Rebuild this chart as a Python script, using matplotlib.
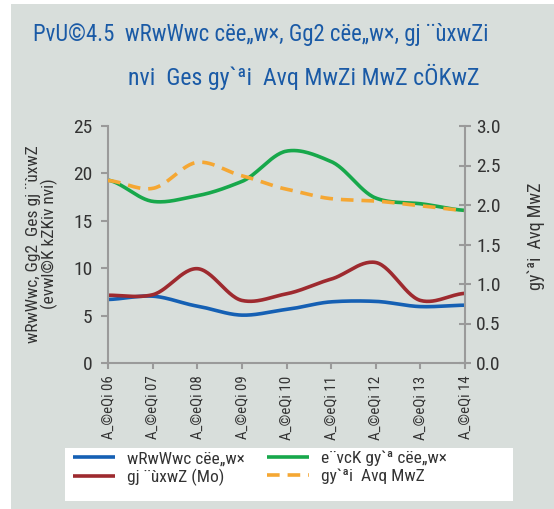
import numpy as np
import matplotlib
matplotlib.use("Agg")
import matplotlib.pyplot as plt
from matplotlib.patches import Rectangle
from matplotlib import font_manager

# data
years = ["06", "07", "08", "09", "10", "11", "12", "13", "14"]
tick_labels = ["A_©eQi " + y for y in years]
gdp_growth = [6.7, 7.05, 6.0, 5.05, 5.65, 6.45, 6.5, 5.95, 6.1]
m2_growth = [19.3, 17.05, 17.65, 19.15, 22.35, 21.25, 17.4, 16.8, 16.1]
inflation = [7.15, 7.2, 9.95, 6.6, 7.3, 8.85, 10.6, 6.6, 7.35]
velocity = [2.31, 2.21, 2.54, 2.37, 2.2, 2.08, 2.05, 1.99, 1.93]

title_1 = "PvU©4.5  wRwWwc cëe„w×, Gg2 cëe„w×, gj ¨ùxwZi"
title_2 = "nvi  Ges gy`ªi  Avq MwZi MwZ cÖKwZ"
ylabel_left = "wRwWwc, Gg2  Ges gj ¨ùxwZ\n(evwl©K kZKiv nvi)"
ylabel_right = "gy`ªi  Avq MwZ"
legend_labels = ["wRwWwc cëe„w×", "gj ¨ùxwZ (Mo)", "e¨vcK gy`ª cëe„w×", "gy`ªi  Avq MwZ"]

# pick a narrow font if one is installed
fonts = font_manager.fontManager.ttflist
names = {f.name for f in fonts}
stretch = "normal"
if "Liberation Sans Narrow" in names:
    family = "Liberation Sans Narrow"
elif "Roboto Condensed" in names:
    family = "Roboto Condensed"
elif any(f.name == "DejaVu Sans" and f.stretch == "condensed" for f in fonts):
    family, stretch = "DejaVu Sans", "condensed"
else:
    family = "Roboto"
plt.rcParams["font.family"] = [family, "DejaVu Sans"]
plt.rcParams["font.stretch"] = stretch

BG = "#d8dedb"
TITLE = "#1a5aa6"
TXT = "#333333"
AXC = "#9a9a9a"


def smooth(xs, ys, n=30):
    # catmull-rom style smoothing, similar to office "smoothed line"
    xs = np.asarray(xs, float)
    ys = np.asarray(ys, float)
    px = np.concatenate([[2 * xs[0] - xs[1]], xs, [2 * xs[-1] - xs[-2]]])
    py = np.concatenate([[ys[0]], ys, [ys[-1]]])
    outx, outy = [], []
    t = np.linspace(0, 1, n)
    for i in range(1, len(px) - 2):
        p0, p1, p2, p3 = py[i - 1], py[i], py[i + 1], py[i + 2]
        m1 = (p2 - p0) / 2 * 0.8
        m2 = (p3 - p1) / 2 * 0.8
        h00 = 2 * t**3 - 3 * t**2 + 1
        h10 = t**3 - 2 * t**2 + t
        h01 = -2 * t**3 + 3 * t**2
        h11 = t**3 - t**2
        outy.append(h00 * p1 + h10 * m1 + h01 * p2 + h11 * m2)
        outx.append(px[i] + t * (px[i + 1] - px[i]))
    return np.concatenate(outx), np.concatenate(outy)


def fit_width(fig, txt, width_px, horizontal=True):
    # shrink a text so that it spans about width_px pixels
    r = fig.canvas.get_renderer()
    bb = txt.get_window_extent(r)
    size = bb.width if horizontal else bb.height
    if size > width_px:
        txt.set_fontsize(txt.get_fontsize() * width_px / size)


fig = plt.figure(figsize=(5.54, 5.09), dpi=100, facecolor="white")
W, H = 554, 509
fig.patches.append(Rectangle((11 / W, 0), 1 - 11 / W, 1 - 4 / H, transform=fig.transFigure,
                             facecolor=BG, edgecolor="none", zorder=-5))
fig.patches.append(Rectangle((65 / W, 1 - 501 / H), 448 / W, 53 / H, transform=fig.transFigure,
                             facecolor="white", edgecolor="none", zorder=-4))

ax = fig.add_axes([108 / W, 1 - 363 / H, 357 / W, 237 / H])
ax.patch.set_visible(False)
ax2 = ax.twinx()
ax2.patch.set_visible(False)

x = np.arange(len(years))
l1, = ax.plot(*smooth(x, gdp_growth), color="#1560b4", lw=2.6, solid_capstyle="butt")
l2, = ax.plot(*smooth(x, inflation), color="#9e2a2f", lw=2.6, solid_capstyle="butt")
l3, = ax.plot(*smooth(x, m2_growth), color="#17a84b", lw=2.6, solid_capstyle="butt")
l4, = ax2.plot(*smooth(x, velocity), color="#f5a733", lw=2.6, dashes=(3.5, 2.2))

ax.set_xlim(0, len(years) - 1)
ax.set_ylim(0, 25)
ax.set_yticks(range(0, 26, 5))
ax2.set_ylim(0, 3.0)
ax2.set_yticks(np.arange(0, 3.01, 0.5))
ax2.set_yticklabels([f"{v:.1f}" for v in np.arange(0, 3.01, 0.5)])
ax.set_xticks(x)
ax.set_xticklabels(tick_labels, rotation=90, fontsize=12, color=TXT)

for a in (ax, ax2):
    for s in a.spines.values():
        s.set_visible(False)
ax.spines["left"].set_visible(True)
ax.spines["bottom"].set_visible(True)
ax2.spines["right"].set_visible(True)
for s in (ax.spines["left"], ax.spines["bottom"], ax2.spines["right"]):
    s.set_color(AXC)
    s.set_linewidth(1.5)

ax.tick_params(axis="y", direction="out", length=5, width=1.5, color=AXC, labelsize=14,
               labelcolor=TXT, pad=6)
ax.tick_params(axis="x", direction="out", length=4, width=1.5, color=AXC, pad=5)
ax2.tick_params(axis="y", direction="inout", length=8, width=1.5, color=AXC, labelsize=14,
                labelcolor=TXT, pad=4)

yl = fig.text(42 / W, 1 - 244 / H, ylabel_left, rotation=90, ha="center", va="center",
              fontsize=12.5, color=TXT, linespacing=0.95)
yr = fig.text(536 / W, 1 - 236 / H, ylabel_right, rotation=90, ha="center", va="center",
              fontsize=13, color=TXT)

t1 = fig.text(33 / W, 1 - 35 / H, title_1, ha="left", va="center", fontsize=21, color=TITLE)
t2 = fig.text(128 / W, 1 - 77 / H, title_2, ha="left", va="center", fontsize=21, color=TITLE)

leg = fig.legend([l1, l2, l3, l4], legend_labels, ncol=2, loc="upper left",
                 bbox_to_anchor=(73 / W, 1 - 451 / H), frameon=False, fontsize=12.5,
                 handlelength=2.4, handletextpad=0.7, columnspacing=1.3, labelspacing=0.1,
                 borderaxespad=0, borderpad=0)
for t in leg.get_texts():
    t.set_color(TXT)

fig.canvas.draw()
fit_width(fig, t1, 454)
fit_width(fig, t2, 350)
fit_width(fig, yl, 200, horizontal=False)
for t in ax.get_xticklabels():
    fit_width(fig, t, 64, horizontal=False)

fig.savefig("out.png", dpi=100, facecolor="white")
